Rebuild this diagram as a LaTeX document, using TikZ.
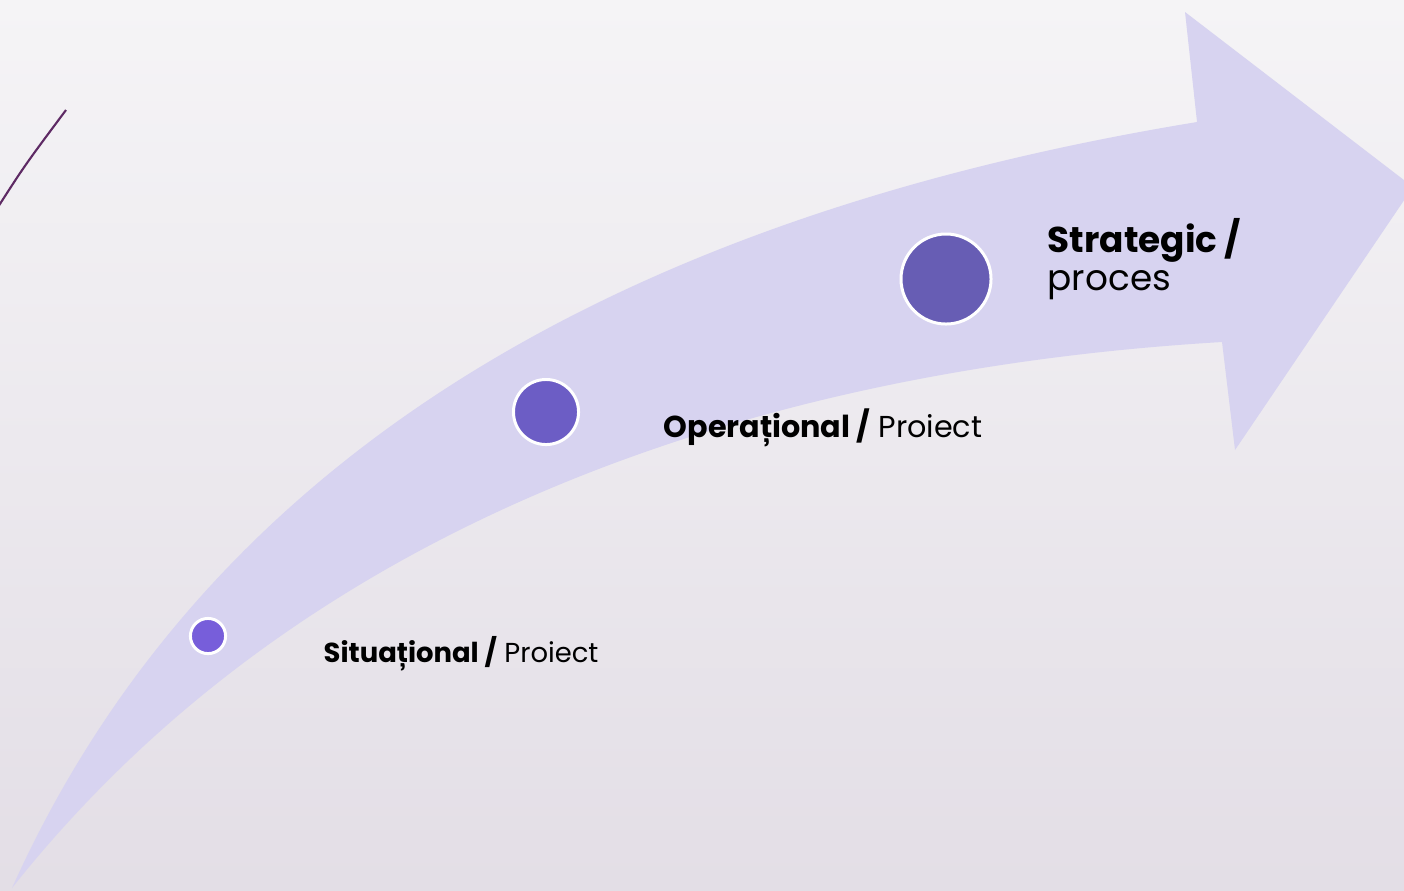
\documentclass[tikz,border=0pt]{standalone}
\usepackage{fontspec}
\setmainfont{Poppins}
\usetikzlibrary{positioning}
\definecolor{BgTop}{HTML}{F5F4F6}
\definecolor{BgBottom}{HTML}{E3DEE6}
\definecolor{Band}{HTML}{D7D3F0}
\definecolor{DotSmall}{HTML}{775EDA}
\definecolor{DotMid}{HTML}{6C5DC5}
\definecolor{DotBig}{HTML}{675DB4}
\definecolor{Plum}{HTML}{5E2A64}

\begin{document}
\begin{tikzpicture}[
  x=0.01cm, y=-0.01cm,
  dot/.style={
    circle,
    draw=white,
    line width=0.85pt,
    inner sep=0pt
  },
  steplabel/.style={
    anchor=base west,
    inner sep=0pt,
    align=left
  }
]
\useasboundingbox (0,0) rectangle (1404,890);
\clip (0,0) rectangle (1404,890);

% Fond
\shade[top color=BgTop, bottom color=BgBottom] (0,0) rectangle (1404,890);

% Trait fin en haut à gauche
\draw[Plum, line width=0.6pt] (-2,207) .. controls (25,165) .. (66,110);

% Flèche courbe
\fill[Band] (12,888) .. controls (200,470) and (600,220) .. (1197,122)
  -- (1185,12) -- (1413,187) -- (1235,450) -- (1222,342)
  .. controls (750,370) and (300,525) .. (12,888) -- cycle;

% Étapes
\node[dot, fill=DotSmall, minimum size=10pt] (sit) at (208,636) {};
\node[dot, fill=DotMid, minimum size=18.5pt] (ope) at (546,412) {};
\node[dot, fill=DotBig, minimum size=25.6pt] (str) at (946,279) {};

% Libellés
\node[steplabel, font=\fontsize{7.8}{10}\selectfont] (lsit) at (323,662)
  {\textbf{Situațional /} Proiect};
\node[steplabel, font=\fontsize{8.6}{11}\selectfont] (lope) at (663,437)
  {\textbf{Operațional /} Proiect};
\node[steplabel, font=\fontsize{10.2}{10.8}\selectfont] (lstr) at (1047,290)
  {\textbf{Strategic /}\\proces};
\end{tikzpicture}
\end{document}
